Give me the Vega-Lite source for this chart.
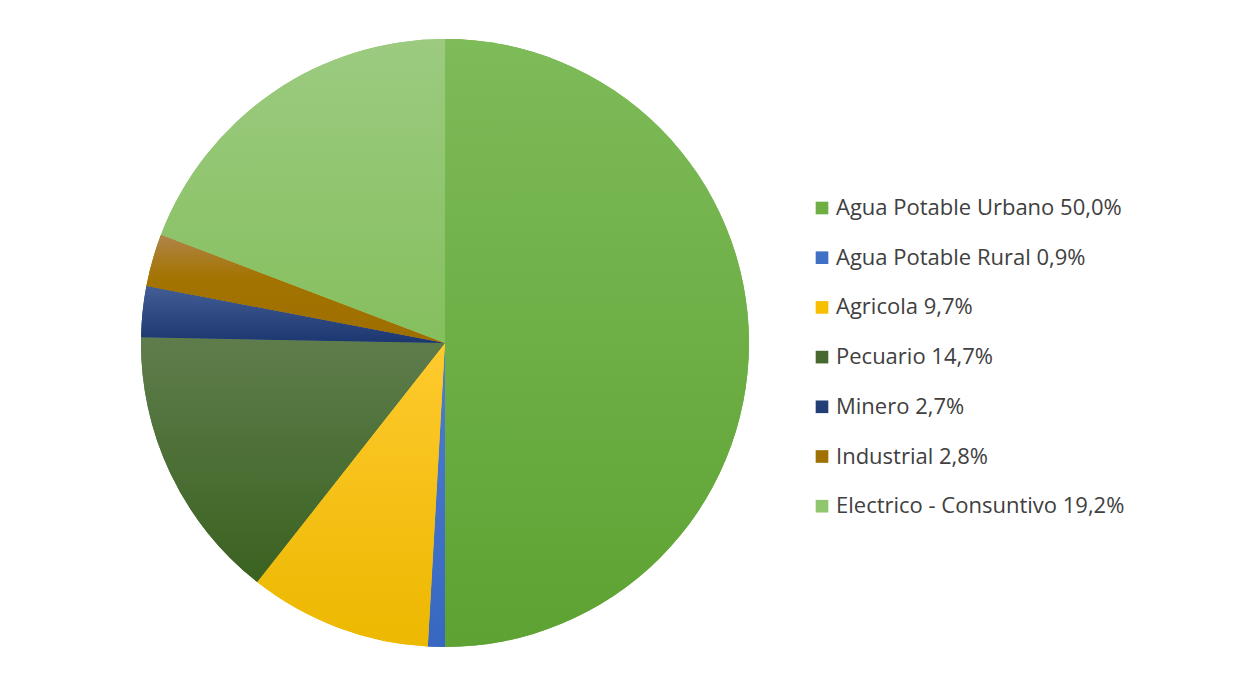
{
  "$schema": "https://vega.github.io/schema/vega-lite/v6.json",
  "width": 890,
  "height": 686,
  "padding": 0,
  "background": "white",
  "view": {"stroke": null},
  "data": {
    "values": [
      {"label": "Agua Potable Urbano 50,0%", "value": 50.0, "order": 1},
      {"label": "Agua Potable Rural 0,9%", "value": 0.9, "order": 2},
      {"label": "Agricola 9,7%", "value": 9.7, "order": 3},
      {"label": "Pecuario 14,7%", "value": 14.7, "order": 4},
      {"label": "Minero 2,7%", "value": 2.7, "order": 5},
      {"label": "Industrial 2,8%", "value": 2.8, "order": 6},
      {"label": "Electrico - Consuntivo 19,2%", "value": 19.2, "order": 7}
    ]
  },
  "transform": [
    {"stack": "value", "groupby": [], "sort": [{"field": "order", "order": "ascending"}], "as": ["start", "end"]}
  ],
  "encoding": {
    "theta": {"field": "start", "type": "quantitative", "scale": {"domain": [0, 100]}},
    "theta2": {"field": "end"}
  },
  "layer": [
    {
      "mark": {"type": "arc", "outerRadius": 304, "stroke": null},
      "encoding": {
        "color": {
          "field": "label",
          "type": "nominal",
          "scale": {
            "domain": ["Agua Potable Urbano 50,0%", "Agua Potable Rural 0,9%", "Agricola 9,7%", "Pecuario 14,7%", "Minero 2,7%", "Industrial 2,8%", "Electrico - Consuntivo 19,2%"],
            "range": ["#6EAE45", "#4070C6", "#F8BE00", "#47692F", "#213F76", "#A07000", "#90C76E"]
          },
          "legend": {
            "title": null,
            "orient": "none",
            "legendX": 811,
            "legendY": 197,
            "symbolType": "square",
            "symbolSize": 160,
            "symbolStrokeWidth": 0,
            "labelFont": "Open Sans",
            "labelFontSize": 22,
            "labelColor": "#404040",
            "labelOffset": 3,
            "rowPadding": 27.7,
            "labelLimit": 400
          }
        }
      }
    },
    {
      "transform": [{"filter": "datum.order == 1"}],
      "mark": {"type": "arc", "outerRadius": 304, "stroke": null, "fill": {"gradient": "linear", "x1": 0, "y1": 0, "x2": 0, "y2": 1, "stops": [{"offset": 0, "color": "#7EBB59"}, {"offset": 1, "color": "#5DA232"}]}}
    },
    {
      "transform": [{"filter": "datum.order == 2"}],
      "mark": {"type": "arc", "outerRadius": 304, "stroke": null, "fill": {"gradient": "linear", "x1": 0, "y1": 0, "x2": 0, "y2": 1, "stops": [{"offset": 0, "color": "#4F7ECF"}, {"offset": 1, "color": "#3767C0"}]}}
    },
    {
      "transform": [{"filter": "datum.order == 3"}],
      "mark": {"type": "arc", "outerRadius": 304, "stroke": null, "fill": {"gradient": "linear", "x1": 0, "y1": 0, "x2": 0, "y2": 1, "stops": [{"offset": 0, "color": "#FFCA2E"}, {"offset": 1, "color": "#ECB800"}]}}
    },
    {
      "transform": [{"filter": "datum.order == 4"}],
      "mark": {"type": "arc", "outerRadius": 304, "stroke": null, "fill": {"gradient": "linear", "x1": 0, "y1": 0, "x2": 0, "y2": 1, "stops": [{"offset": 0, "color": "#5F7D4C"}, {"offset": 1, "color": "#3A6220"}]}}
    },
    {
      "transform": [{"filter": "datum.order == 5"}],
      "mark": {"type": "arc", "outerRadius": 304, "stroke": null, "fill": {"gradient": "linear", "x1": 0, "y1": 0, "x2": 0, "y2": 1, "stops": [{"offset": 0, "color": "#435E95"}, {"offset": 1, "color": "#1C3770"}]}}
    },
    {
      "transform": [{"filter": "datum.order == 6"}],
      "mark": {"type": "arc", "outerRadius": 304, "stroke": null, "fill": {"gradient": "linear", "x1": 0, "y1": 0, "x2": 0, "y2": 1, "stops": [{"offset": 0, "color": "#B0844A"}, {"offset": 0.4, "color": "#A37400"}, {"offset": 1, "color": "#9E6E00"}]}}
    },
    {
      "transform": [{"filter": "datum.order == 7"}],
      "mark": {"type": "arc", "outerRadius": 304, "stroke": null, "fill": {"gradient": "linear", "x1": 0, "y1": 0, "x2": 0, "y2": 1, "stops": [{"offset": 0, "color": "#9CCB80"}, {"offset": 1, "color": "#85BF5E"}]}}
    }
  ]
}
